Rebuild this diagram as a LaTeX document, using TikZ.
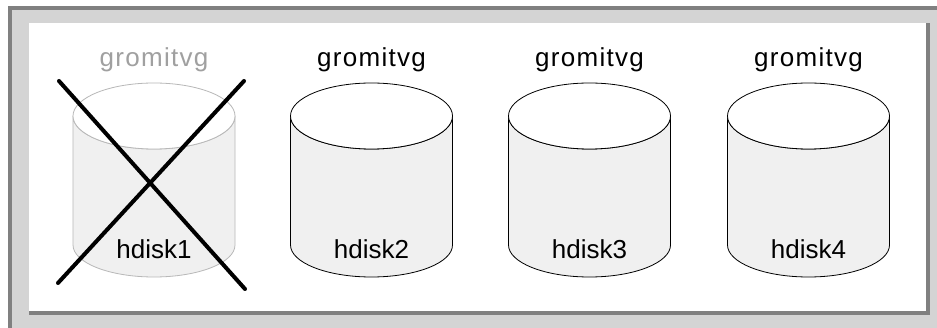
\documentclass[tikz,border=0pt]{standalone}
\usepackage{fontspec}
\setmainfont{Liberation Sans}
\newfontfamily\vgfont[LetterSpace=5]{Liberation Sans}
\definecolor{panelgray}{HTML}{D4D4D4}
\definecolor{edgegray}{HTML}{808080}
\definecolor{bodyfill}{HTML}{F0F0F0}
\definecolor{fadedtext}{HTML}{A0A0A0}
\definecolor{fadedline}{HTML}{B8B8B8}
\begin{document}
\begin{tikzpicture}[x=1pt,y=-1pt,
  vglabel/.style={anchor=base,inner sep=0pt,font=\vgfont\fontsize{26}{31}\selectfont},
  disklabel/.style={anchor=base,inner sep=0pt,font=\fontsize{26}{31}\selectfont},
  cross/.style={line width=4pt,line cap=round}]
\useasboundingbox (0,0) rectangle (937,328);
% raised outer panel with dark top/left edge
\fill[white] (0,0) rectangle (937,328);
\fill[panelgray] (8,6) rectangle (937,328);
\fill[edgegray] (8,6) rectangle (937,10);
\fill[edgegray] (8,6) rectangle (12,328);
% sunken white panel with dark shadow at right/bottom
\fill[edgegray] (29,23) rectangle (930,315);
\fill[white] (29,23) rectangle (926,311);
% the four disks of the volume group
\foreach \i/\cx/\lc/\tc/\hc in {1/154/fadedline/fadedtext/black,
                                 2/371.5/black/black/black,
                                 3/589.5/black/black/black,
                                 4/808.5/black/black/black}{
  \filldraw[fill=bodyfill,draw=\lc,line width=0.8pt]
    (\cx-81,116) -- (\cx-81,245)
    arc[start angle=180,end angle=0,x radius=81,y radius=32]
    -- (\cx+81,116)
    arc[start angle=0,end angle=180,x radius=81,y radius=33] -- cycle;
  \filldraw[fill=white,draw=\lc,line width=0.8pt]
    (\cx,116) ellipse[x radius=81,y radius=33];
  \node[vglabel,text=\tc] (vg\i) at (\cx,67) {gromitvg};
  \node[disklabel,text=\hc] (hd\i) at (\cx,259) {hdisk\i};
}
% failed disk crossed out
\draw[cross] (58,283) -- (244,81);
\draw[cross] (59,81) -- (245,289);
\end{tikzpicture}
\end{document}
